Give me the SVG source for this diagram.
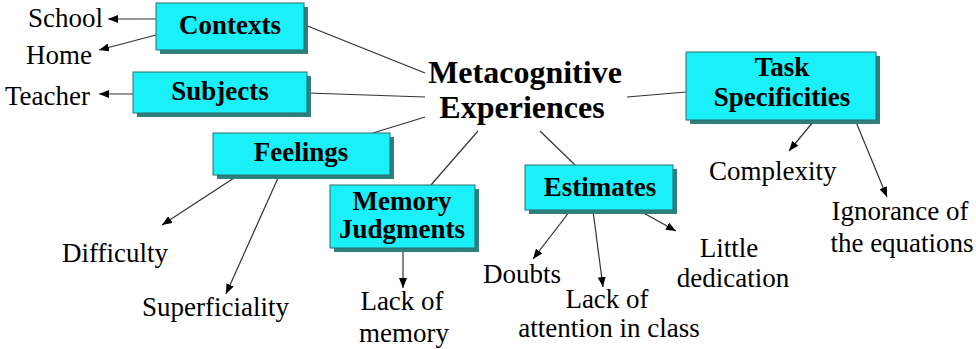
<svg xmlns="http://www.w3.org/2000/svg" width="976" height="349" viewBox="0 0 976 349">
  <defs>
    <!-- small filled arrowhead for the example links -->
    <marker id="arrow" viewBox="0 0 10 8" refX="10" refY="4" markerWidth="10" markerHeight="8" markerUnits="userSpaceOnUse" orient="auto">
      <path d="M0,0 L10,4 L0,8 Z" fill="#000"/>
    </marker>
  </defs>
  <style>
    text { font-family: 'Liberation Serif', 'Times New Roman', serif; fill: #000; }
    .shadow { fill: #2f7f7f; }
    .box { fill: #19f0f8; stroke: #2f6f6f; stroke-width: 1; }
    .title { font-weight: bold; font-size: 27px; text-anchor: middle; }
    .center { font-weight: bold; font-size: 32px; text-anchor: middle; }
    .leaf { font-size: 27px; }
    .mid { text-anchor: middle; }
    .link { stroke: #333; stroke-width: 1.2; fill: none; }
    .arr { stroke: #333; stroke-width: 1.2; fill: none; marker-end: url(#arrow); }
  </style>
  <rect width="976" height="349" fill="#fff"/>

  <g id="connectors">
    <!-- links to the central concept -->
    <line class="link" x1="305" y1="25" x2="425" y2="73"/>
    <line class="link" x1="307" y1="93" x2="425" y2="97"/>
    <line class="link" x1="373" y1="133" x2="425" y2="117"/>
    <line class="link" x1="431" y1="185" x2="478" y2="131"/>
    <line class="link" x1="540" y1="131" x2="575" y2="165"/>
    <line class="link" x1="627" y1="97" x2="686" y2="92"/>
    <!-- arrows to the examples -->
    <line class="arr" x1="156" y1="19" x2="108" y2="19"/>
    <line class="arr" x1="156" y1="35" x2="99" y2="50"/>
    <line class="arr" x1="133" y1="94" x2="99" y2="94"/>
    <line class="arr" x1="234" y1="178" x2="162" y2="225"/>
    <line class="arr" x1="278" y1="178" x2="226" y2="294"/>
    <line class="arr" x1="403" y1="251" x2="403" y2="288"/>
    <line class="arr" x1="570" y1="211" x2="533" y2="259"/>
    <line class="arr" x1="593" y1="211" x2="603" y2="287"/>
    <line class="arr" x1="640" y1="211" x2="676" y2="231"/>
    <line class="arr" x1="813" y1="122" x2="789" y2="151"/>
    <line class="arr" x1="856" y1="122" x2="887" y2="197"/>
  </g>

  <g id="metacognitive-experiences">
    <text class="center" x="525" y="83">Metacognitive</text>
    <text class="center" x="522" y="118">Experiences</text>
  </g>

  <g id="contexts">
    <rect class="shadow" x="160" y="7" width="148" height="47"/>
    <rect class="box" x="156" y="3" width="148" height="47"/>
    <text class="title" x="230" y="34">Contexts</text>
  </g>
  <g id="subjects">
    <rect class="shadow" x="137" y="76" width="174" height="41"/>
    <rect class="box" x="133" y="72" width="174" height="41"/>
    <text class="title" x="220" y="100">Subjects</text>
  </g>
  <g id="feelings">
    <rect class="shadow" x="217" y="137" width="177" height="42"/>
    <rect class="box" x="213" y="133" width="177" height="42"/>
    <text class="title" x="301" y="161">Feelings</text>
  </g>
  <g id="memory-judgments">
    <rect class="shadow" x="334" y="189" width="145" height="63"/>
    <rect class="box" x="330" y="185" width="145" height="63"/>
    <text class="title" x="402" y="210">Memory</text>
    <text class="title" x="402" y="238">Judgments</text>
  </g>
  <g id="estimates">
    <rect class="shadow" x="529" y="169" width="148" height="45"/>
    <rect class="box" x="525" y="165" width="148" height="45"/>
    <text class="title" x="600" y="196">Estimates</text>
  </g>
  <g id="task-specificities">
    <rect class="shadow" x="690" y="56" width="190" height="68"/>
    <rect class="box" x="686" y="52" width="190" height="68"/>
    <text class="title" x="782" y="76">Task</text>
    <text class="title" x="782" y="106">Specificities</text>
  </g>

  <g id="school"><text class="leaf" x="28" y="27">School</text></g>
  <g id="home"><text class="leaf" x="26" y="64">Home</text></g>
  <g id="teacher"><text class="leaf" x="5" y="105">Teacher</text></g>
  <g id="difficulty"><text class="leaf" x="62" y="262">Difficulty</text></g>
  <g id="superficiality"><text class="leaf" x="142" y="316">Superficiality</text></g>
  <g id="lack-of-memory">
    <text class="leaf mid" x="402" y="310">Lack of</text>
    <text class="leaf mid" x="404" y="342">memory</text>
  </g>
  <g id="doubts"><text class="leaf" x="483" y="283">Doubts</text></g>
  <g id="lack-of-attention">
    <text class="leaf mid" x="607" y="308">Lack of</text>
    <text class="leaf mid" x="609" y="337">attention in class</text>
  </g>
  <g id="little-dedication">
    <text class="leaf mid" x="729" y="257">Little</text>
    <text class="leaf mid" x="733" y="287">dedication</text>
  </g>
  <g id="complexity"><text class="leaf" x="709" y="180">Complexity</text></g>
  <g id="ignorance">
    <text class="leaf mid" x="900" y="220">Ignorance of</text>
    <text class="leaf mid" x="902" y="252">the equations</text>
  </g>
</svg>
